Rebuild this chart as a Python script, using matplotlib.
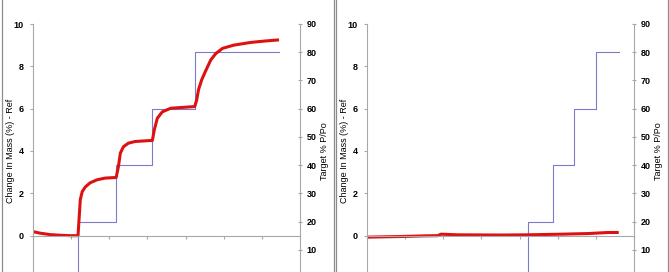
import matplotlib
matplotlib.use("Agg")
import matplotlib.pyplot as plt
from matplotlib.lines import Line2D

plt.rcParams['font.family'] = ['Liberation Sans', 'DejaVu Sans']
plt.rcParams['font.weight'] = 'bold'
plt.rcParams['font.size'] = 6.5

# left panel: mass change (red) and target RH steps (blue)
left_mass_t = [0, 0.18, 0.45, 0.71, 0.97, 1.18, 1.24, 1.29, 1.37, 1.5, 1.68, 1.89, 2.18,
               2.24, 2.29, 2.37, 2.5, 2.68, 3.13, 3.18, 3.26, 3.39, 3.61, 4.24,
               4.29, 4.34, 4.42, 4.53, 4.66, 4.79, 4.97, 5.26, 5.71, 6.11, 6.45]
left_mass = [0.19, 0.12, 0.05, 0.02, 0.0, 0.0, 1.7, 2.08, 2.3, 2.5, 2.64, 2.72, 2.75,
             3.27, 3.9, 4.2, 4.37, 4.45, 4.5, 5.0, 5.55, 5.85, 6.02, 6.1,
             6.4, 6.9, 7.35, 7.8, 8.3, 8.6, 8.85, 9.0, 9.13, 9.2, 9.25]
left_step_t = [0, 1.18, 2.18, 3.13, 4.24, 6.45]
left_step = [0, 20, 40, 60, 80, 80]

# right panel
right_mass_t = [0, 0.89, 1.5, 1.85, 1.94, 2.38, 3.52, 4.22, 5.1, 5.8, 6.32, 6.6]
right_mass = [-0.07, -0.04, -0.01, 0.0, 0.07, 0.04, 0.03, 0.04, 0.07, 0.1, 0.15, 0.15]
right_step_t = [0, 4.21, 4.87, 5.42, 6.0, 6.6]
right_step = [0, 20, 40, 60, 80, 80]

W, H = 669, 272
fig = plt.figure(figsize=(W / 100, H / 100), dpi=100)

spine_col = '#a8a8a8'


def panel(x0, t_mass, mass, t_step, step):
    ax = fig.add_axes([x0 / W, -6 / H, 267 / W, 254 / H])
    ax2 = ax.twinx()
    ax.set_zorder(ax2.get_zorder() + 1)
    ax.patch.set_visible(False)

    ax2.plot(t_step, step, drawstyle='steps-post', color='#7b7bcc', lw=0.8)
    ax.plot(t_mass, mass, color='#dd1111', lw=2.2, solid_capstyle='butt')

    ax.set_xlim(0, 7)
    ax.set_ylim(-2, 10)
    ax2.set_ylim(0, 90)
    ax.set_xticks(range(8))
    ax.set_xticklabels([])
    # the -2 / 0 ticks sit below the cropped bottom edge
    ax.set_yticks(range(0, 11, 2))
    ax2.set_yticks(range(10, 91, 10))

    for s in ['top', 'right']:
        ax.spines[s].set_visible(False)
    for s in ['top', 'left', 'bottom']:
        ax2.spines[s].set_visible(False)
    ax.spines['bottom'].set_position(('data', 0))
    ax.spines['left'].set_color(spine_col)
    ax.spines['bottom'].set_color(spine_col)
    ax2.spines['right'].set_color(spine_col)

    ax.tick_params(axis='y', direction='out', length=2.5, width=0.8, color=spine_col, pad=4)
    ax.tick_params(axis='x', direction='out', length=2.5, width=0.8, color=spine_col)
    ax2.tick_params(axis='y', direction='inout', length=3.5, width=0.8, color=spine_col, pad=3)

    ax.set_ylabel('Change In Mass (%) - Ref', va='center')
    ax.yaxis.set_label_coords(-0.084, 0.5)
    ax2.set_ylabel('Target % P/Po', va='center')
    ax2.yaxis.set_label_coords(1.09, 0.5)
    return ax


panel(33, left_mass_t, left_mass, left_step_t, left_step)
panel(367, right_mass_t, right_mass, right_step_t, right_step)

# panel frames
for xp in [1.5, 333.5, 335.5, 667.5]:
    fig.add_artist(Line2D([xp / W, xp / W], [0, 1], transform=fig.transFigure,
                          color='#8c8c8c', lw=0.9))

fig.savefig('out.png', dpi=100)
